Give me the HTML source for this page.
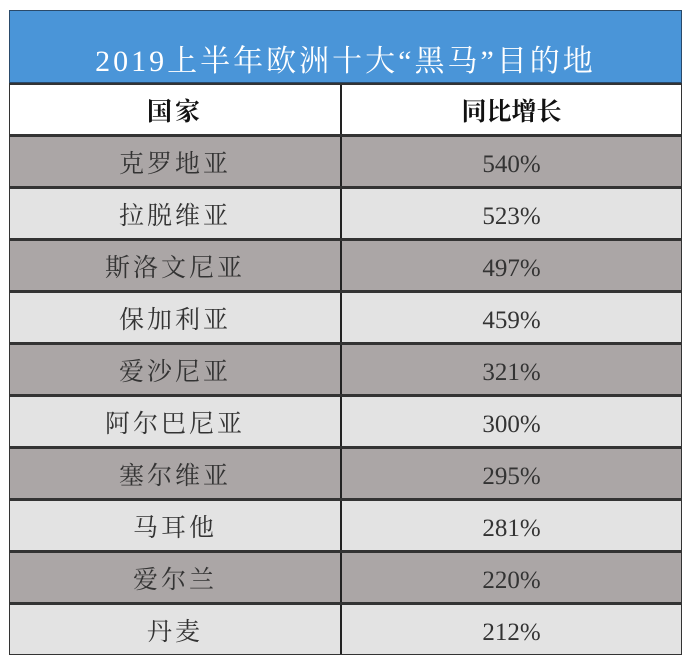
<!DOCTYPE html>
<html><head><meta charset="utf-8"><style>
body{margin:0;width:696px;height:664px;background:#fff;position:relative;overflow:hidden;font-family:"Liberation Serif","Noto Serif CJK SC",serif;}
.t{position:absolute;left:9px;top:10px;width:673px;height:73px;background:#4a95d8;border:1px solid #2a4a6a;box-sizing:border-box;color:#fff;font-size:30px;text-align:center;line-height:102px;letter-spacing:3px}
.r{position:absolute;left:9px;width:673px;height:52px;box-sizing:border-box;border:1px solid #333;border-top:2px solid #333;display:flex;font-size:25px;color:#333}
.r div{flex:0 0 330px;text-align:center;line-height:56px;letter-spacing:3px}
.r div+div{flex:1;border-left:2px solid #222;letter-spacing:0}
.h{background:#fff;color:#111;font-weight:bold}
.d{background:#aba6a6}.l{background:#e3e3e3}
</style></head><body>
<div class="t">2019上半年欧洲十大“黑马”目的地</div>
<div id="tb"></div>
<script>
const countries=["克罗地亚","拉脱维亚","斯洛文尼亚","保加利亚","爱沙尼亚","阿尔巴尼亚","塞尔维亚","马耳他","爱尔兰","丹麦"];
const growth=["540%","523%","497%","459%","321%","300%","295%","281%","220%","212%"];
const tb=document.getElementById('tb');
function row(a,b,cls,top,name){
 const r=document.createElement('div');r.className='r '+cls;r.style.top=top+'px';
 
 
 const c1=document.createElement('div');c1.textContent=a;
 
 
 const c2=document.createElement('div');c2.textContent=b;
 
 
 r.appendChild(c1);r.appendChild(c2);tb.appendChild(r);
}
row("国家","同比增长","h",83,"header-row");
countries.forEach((c,i)=>row(c,growth[i],i%2?'l':'d',135+i*52,'data-row'));
</script>
</body></html>
